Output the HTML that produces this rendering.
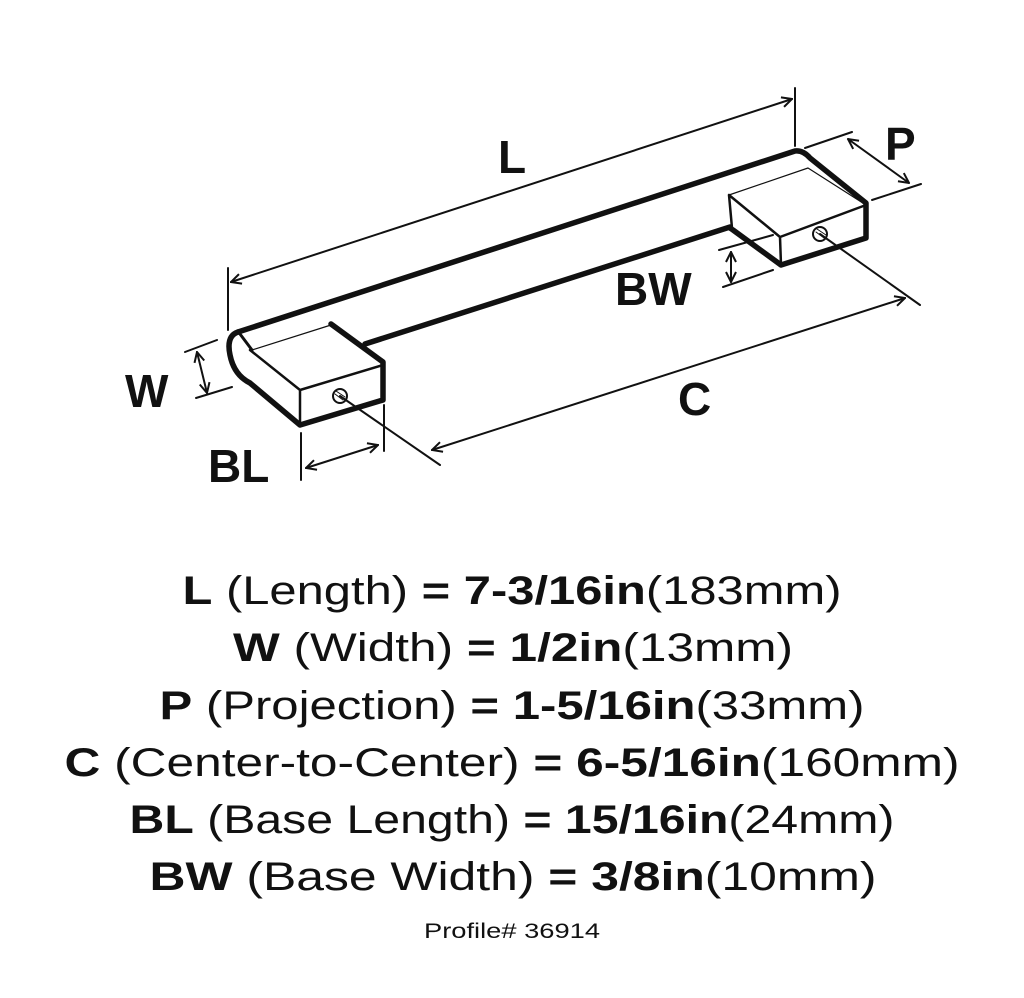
<!DOCTYPE html>
<html><head><meta charset="utf-8"><style>
html,body{margin:0;padding:0;background:#fff;}
svg{display:block;}
text{font-family:"Liberation Sans",sans-serif;fill:#111;}
</style></head><body>
<svg width="1024" height="998" viewBox="0 0 1024 998" xmlns="http://www.w3.org/2000/svg">
<rect width="1024" height="998" fill="#fff"/>
<defs>
<marker id="a" viewBox="0 0 12 12" refX="11" refY="6" markerWidth="12" markerHeight="12" markerUnits="userSpaceOnUse" orient="auto-start-reverse">
<path d="M1,1 L11,6 L1,11" fill="none" stroke="#111" stroke-width="2"/>
</marker>
</defs>
<g stroke="#111" fill="none" stroke-linecap="round" stroke-linejoin="round">
<path d="M238,332 L795,151 Q803,150 810,158 L866,203 L866,238 L781,265 L733,230 L730,228" stroke-width="5.5"/>
<path d="M365,344 L730,227" stroke-width="5.5"/>
<path d="M238,332 Q226,336 230,355 Q234,375 250,383 L300,425 L383,400 L383,362 L331,324" stroke-width="5.5"/>
<path d="M250,350 L300,390 L383,365 M300,390 L300,425" stroke-width="2.5"/>
<path d="M252,350 L331,325" stroke-width="1.2"/>
<path d="M240,334 L252,350" stroke-width="3"/>
<path d="M729,195 L780,237 L866,205 M780,237 L781,265 M729,195 L732,228" stroke-width="2.5"/>
<path d="M729,195 L808,168 L866,205" stroke-width="1.2"/>
<circle cx="340" cy="396" r="7" stroke-width="2"/>
<circle cx="820" cy="234" r="7" stroke-width="2"/>
<path d="M335,394 L343,400 M336,391 L345,397 M816,232 L824,238 M817,229 L826,235" stroke-width="1"/>
<path d="M340,396 L440,465 M820,234 L920,305" stroke-width="2"/>
<line x1="432" y1="450" x2="905" y2="298" stroke-width="2" marker-start="url(#a)" marker-end="url(#a)"/>
<path d="M228,268 L228,330 M795,88 L795,146" stroke-width="2"/>
<line x1="231" y1="282" x2="792" y2="99" stroke-width="2" marker-start="url(#a)" marker-end="url(#a)"/>
<path d="M805,148 L852,132 M872,200 L921,184" stroke-width="2"/>
<line x1="848" y1="139" x2="909" y2="183" stroke-width="2" marker-start="url(#a)" marker-end="url(#a)"/>
<path d="M719,250 L773,235 M723,287 L773,270" stroke-width="2"/>
<line x1="731" y1="252" x2="731" y2="282" stroke-width="2" marker-start="url(#a)" marker-end="url(#a)"/>
<path d="M185,352 L217,340 M196,398 L232,387" stroke-width="2"/>
<line x1="197" y1="352" x2="207" y2="393" stroke-width="2" marker-start="url(#a)" marker-end="url(#a)"/>
<path d="M301,433 L301,480 M384,405 L384,451" stroke-width="2"/>
<line x1="306" y1="468" x2="378" y2="445" stroke-width="2" marker-start="url(#a)" marker-end="url(#a)"/>
</g>
<g font-size="46" font-weight="bold">
<text x="498" y="173">L</text>
<text x="885" y="160">P</text>
<text x="615" y="305">BW</text>
<text x="125" y="407">W</text>
<text x="678" y="415">C</text>
<text x="208" y="482">BL</text>
</g>
<g font-size="40" text-anchor="middle">
<text x="512" y="604" textLength="659" lengthAdjust="spacingAndGlyphs"><tspan font-weight="bold">L</tspan> (Length) <tspan font-weight="bold">= 7-3/16in</tspan>(183mm)</text>
<text x="513" y="661" textLength="560" lengthAdjust="spacingAndGlyphs"><tspan font-weight="bold">W</tspan> (Width) <tspan font-weight="bold">= 1/2in</tspan>(13mm)</text>
<text x="512" y="719" textLength="705" lengthAdjust="spacingAndGlyphs"><tspan font-weight="bold">P</tspan> (Projection) <tspan font-weight="bold">= 1-5/16in</tspan>(33mm)</text>
<text x="512" y="776" textLength="895" lengthAdjust="spacingAndGlyphs"><tspan font-weight="bold">C</tspan> (Center-to-Center) <tspan font-weight="bold">= 6-5/16in</tspan>(160mm)</text>
<text x="512" y="833" textLength="765" lengthAdjust="spacingAndGlyphs"><tspan font-weight="bold">BL</tspan> (Base Length) <tspan font-weight="bold">= 15/16in</tspan>(24mm)</text>
<text x="513" y="890" textLength="727" lengthAdjust="spacingAndGlyphs"><tspan font-weight="bold">BW</tspan> (Base Width) <tspan font-weight="bold">= 3/8in</tspan>(10mm)</text>
</g>
<text x="512" y="938" font-size="21" text-anchor="middle" textLength="176" lengthAdjust="spacingAndGlyphs">Profile# 36914</text>
</svg>
</body></html>
